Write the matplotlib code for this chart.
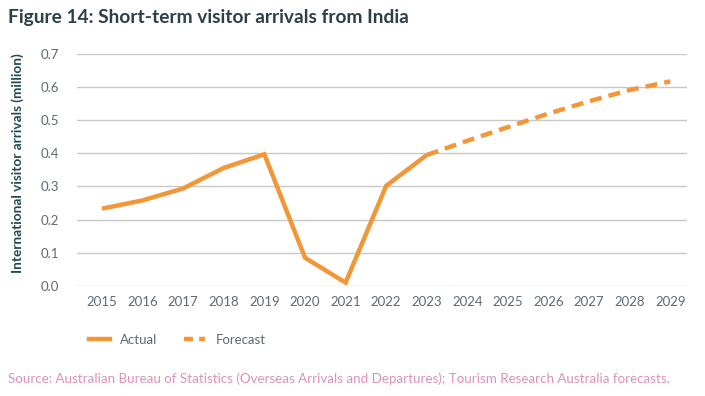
import matplotlib
matplotlib.use("Agg")
import matplotlib.pyplot as plt
from matplotlib.lines import Line2D

plt.rcParams['font.family'] = ['Lato', 'DejaVu Sans']

actual_years = [2015, 2016, 2017, 2018, 2019, 2020, 2021, 2022, 2023]
actual_values = [0.233, 0.258, 0.294, 0.356, 0.397, 0.085, 0.010, 0.302, 0.395]
forecast_years = [2023, 2024, 2025, 2026, 2027, 2028, 2029]
forecast_values = [0.395, 0.438, 0.479, 0.520, 0.557, 0.591, 0.617]
year_ticks = list(range(2015, 2030))
y_ticks = [0.0, 0.1, 0.2, 0.3, 0.4, 0.5, 0.6, 0.7]

orange = '#f39638'
tick_col = '#5e6a72'

fig = plt.figure(figsize=(7.05, 3.96), dpi=100)
ax = fig.add_axes([0.109, 0.278, 0.866, 0.586])

ax.plot(actual_years, actual_values, color=orange, lw=3.2, solid_capstyle='butt', solid_joinstyle='miter')
ax.plot(forecast_years, forecast_values, color=orange, lw=3.2, dashes=(2.7, 1.6))

ax.set_xlim(2014.38, 2029.42)
ax.set_ylim(0, 0.7)
ax.set_yticks(y_ticks)
ax.set_yticklabels([f"{v:.1f}" for v in y_ticks])
ax.set_xticks(year_ticks)
ax.set_xticklabels([str(y) for y in year_ticks])
ax.grid(axis='y', color='#c8c8c8', lw=1.0)
ax.set_axisbelow(True)
for s in ax.spines.values():
    s.set_visible(False)
ax.tick_params(axis='both', length=0, colors=tick_col, labelsize=9.5)
ax.tick_params(axis='y', pad=13)
ax.tick_params(axis='x', pad=7)

ax.set_ylabel('International visitor arrivals (million)', fontsize=9.8, fontweight='bold', color='#1f4a50')
ax.yaxis.set_label_coords(-0.087, 0.53)

fig.text(0.011, 0.955, 'Figure 14: Short-term visitor arrivals from India', fontsize=13.8, fontweight='bold',
         color='#2e3f47', va='center', ha='left')

handles = [Line2D([], [], color=orange, lw=3.2),
           Line2D([], [], color=orange, lw=3.2, dashes=(2.0, 1.4))]
fig.legend(handles, ['Actual', 'Forecast'], loc='center left', bbox_to_anchor=(0.109, 0.142),
           ncol=2, frameon=False, fontsize=9.5, labelcolor=tick_col, handlelength=1.6,
           columnspacing=2.0, handletextpad=0.8)

fig.text(0.011, 0.043, 'Source: Australian Bureau of Statistics (Overseas Arrivals and Departures); Tourism Research Australia forecasts.',
         fontsize=9.6, color='#dd90b8', va='center', ha='left')

fig.savefig('out.png', dpi=100)
